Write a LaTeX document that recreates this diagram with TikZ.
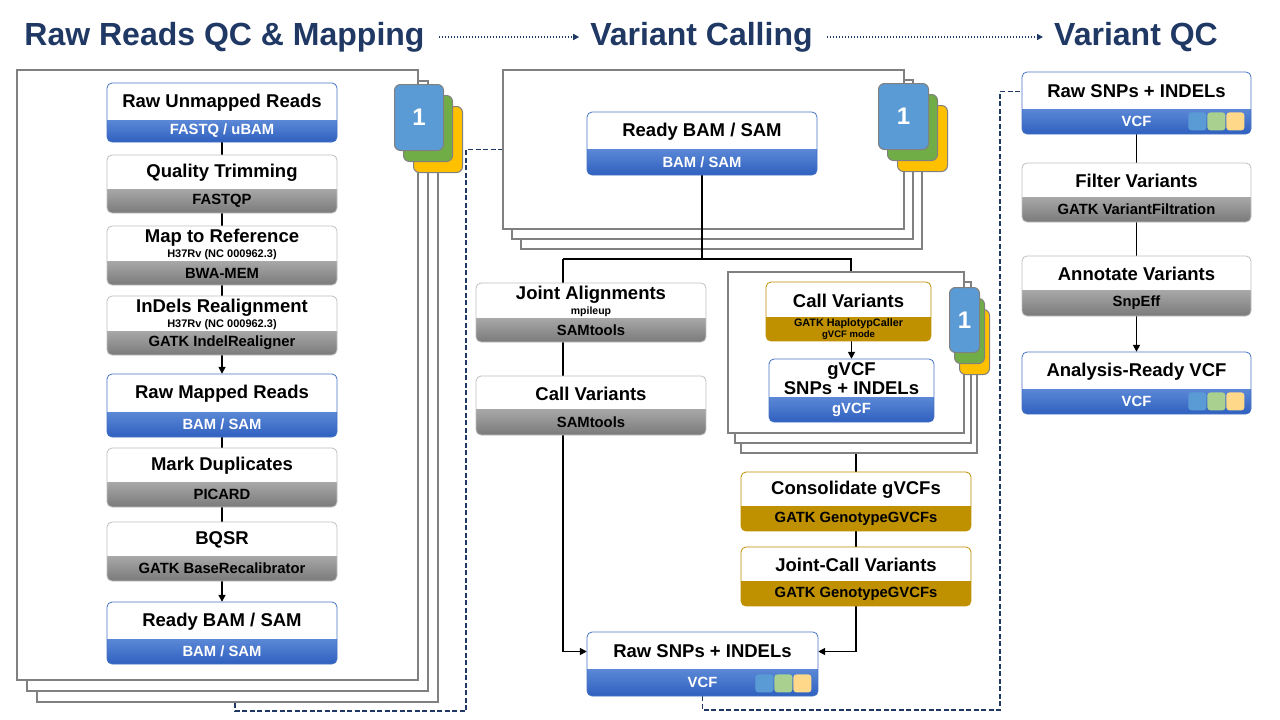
\documentclass[tikz,border=0pt]{standalone}
\usepackage{fontspec}
\setmainfont{Liberation Sans}
\usetikzlibrary{arrows.meta,calc,fit}
\definecolor{navy}{HTML}{203864}
\definecolor{frameGray}{HTML}{808080}
\definecolor{boxBlue}{HTML}{4472C4}
\definecolor{bBlueTop}{HTML}{5B88D6}
\definecolor{bBlueBot}{HTML}{2F60BF}
\definecolor{gTop}{HTML}{A8A8A8}
\definecolor{gBot}{HTML}{7A7A7A}
\definecolor{gEdge}{HTML}{BFBFBF}
\definecolor{gold}{HTML}{BF9000}
\definecolor{iBlue}{HTML}{5B9BD5}
\definecolor{iGreen}{HTML}{70AD47}
\definecolor{iYellow}{HTML}{FFC000}
\definecolor{sqB}{HTML}{5B9BD5}
\definecolor{sqG}{HTML}{A9D08E}
\definecolor{sqY}{HTML}{FFD88A}
\newcommand\fsz[2]{\fontsize{#1}{#2}\selectfont}
\pgfdeclarelayer{bgfill}
\pgfdeclarelayer{frames}
\pgfdeclarelayer{links}
\pgfsetlayers{bgfill,frames,links,main}
\tikzset{
  blueband/.style={top color=bBlueTop,bottom color=bBlueBot},
  blueedge/.style={draw=boxBlue,line width=0.8},
  bluetext/.style={text=white,font=\bfseries\fsz{14.8}{16},align=center,inner sep=0pt},
  greyband/.style={top color=gTop,bottom color=gBot},
  greyedge/.style={draw=gEdge,line width=0.8},
  greytext/.style={text=black,font=\bfseries\fsz{14.8}{16},align=center,inner sep=0pt},
  goldband/.style={fill=gold},
  goldedge/.style={draw=gold,line width=0.8},
  goldtext/.style={text=black,font=\bfseries\fsz{14.8}{16},align=center,inner sep=0pt},
  titletext/.style={font=\bfseries\fsz{18.5}{19},align=center,inner sep=0pt},
  framebox/.style={draw=frameGray,line width=2,fill=white,inner sep=0pt,anchor=north west},
  iconbox/.style={draw=frameGray,line width=1,rounded corners=6,inner sep=0pt,anchor=north west,
    text=white,font=\bfseries\fsz{24}{24}},
  sqbox/.style={minimum size=18,rounded corners=3,inner sep=0pt,anchor=north west},
  link/.style={line width=1.6,black},
  linkarrow/.style={line width=1.6,black,-{Triangle[length=7pt,width=7pt]}},
  dashline/.style={line width=1.8,navy,dash pattern=on 5pt off 2.5pt},
  bigtitle/.style={font=\bfseries\fsz{32}{36},text=navy,inner sep=4pt},
  titlearrow/.style={line width=1.5,navy,dash pattern=on 1.5pt off 1.5pt,
    -{Triangle[length=6pt,width=6pt]},shorten <=10pt,shorten >=7pt}
}
% #1 name #2 x1 #3 y1 #4 x2 #5 ydiv #6 y2 #7 kind #8 title #9 band
\newcommand\flowbox[9]{%
  \begin{scope}
    \clip[rounded corners=5] (#2,#3) rectangle (#4,#6);
    \fill[white] (#2,#3) rectangle (#4,#6);
    \path[#7band] (#2,#5) rectangle (#4,#6);
  \end{scope}
  \draw[#7edge,rounded corners=5] (#2,#3) rectangle (#4,#6);
  \node[fit={(#2,#3)(#4,#6)},inner sep=0pt] (#1) {};
  \node[titletext] (#1t) at ($(#2,#3)!0.5!(#4,#5)+(0,1)$) {#8};
  \node[#7text] (#1b) at ($(#2,#5)!0.5!(#4,#6)$) {#9};
}
\newcommand\vcfsq[1]{%
  \node[sqbox,fill=sqB] (#1s1) at ($(#1.south east)+(-63,-22)$) {};
  \node[sqbox,fill=sqG] (#1s2) at ($(#1.south east)+(-44,-22)$) {};
  \node[sqbox,fill=sqY] (#1s3) at ($(#1.south east)+(-25,-22)$) {};
}
\begin{document}
\begin{tikzpicture}[x=1pt,y=-1pt]
\useasboundingbox (0,0) rectangle (1280,720);
\begin{pgfonlayer}{bgfill}
\fill[white] (0,0) rectangle (1280,720);
\end{pgfonlayer}

% titles
\node[bigtitle] (t1) at (224.5,37) {Raw Reads QC \& Mapping};
\node[bigtitle] (t2) at (701.5,37) {Variant Calling};
\node[bigtitle] (t3) at (1136,37) {Variant QC};
\draw[titlearrow] (t1.east) -- (t2.west);
\draw[titlearrow] (t2.east) -- (t3.west);

\begin{pgfonlayer}{frames}
  % left frames
  \node[framebox,minimum width=401,minimum height=610] (lf3) at (36,91) {};
  \node[framebox,minimum width=401,minimum height=610] (lf2) at (26,80) {};
  \node[framebox,minimum width=401,minimum height=610] (lf1) at (16,69) {};
  \node[iconbox,fill=iYellow,minimum width=49,minimum height=66] (li3) at (413,106) {};
  \node[iconbox,fill=iGreen,minimum width=49,minimum height=66] (li2) at (403,95) {};
  \node[iconbox,fill=iBlue,minimum width=49,minimum height=66] (li1) at (394,84) {1};
  % middle frames
  \node[framebox,minimum width=401,minimum height=159] (mf3) at (520,89) {};
  \node[framebox,minimum width=401,minimum height=159] (mf2) at (511,79) {};
  \node[framebox,minimum width=401,minimum height=159] (mf1) at (502,69) {};
  \node[iconbox,fill=iYellow,minimum width=50,minimum height=66] (mi3) at (897,105) {};
  \node[iconbox,fill=iGreen,minimum width=50,minimum height=66] (mi2) at (887,94) {};
  \node[iconbox,fill=iBlue,minimum width=50,minimum height=66] (mi1) at (878,83) {1};
  % inner frames
  \node[framebox,minimum width=236,minimum height=161] (cf3) at (740,291) {};
  \node[framebox,minimum width=236,minimum height=161] (cf2) at (733.5,281) {};
  \node[framebox,minimum width=236,minimum height=161] (cf1) at (727,271) {};
  \node[iconbox,fill=iYellow,minimum width=30,minimum height=65] (ci3) at (959,309) {};
  \node[iconbox,fill=iGreen,minimum width=30,minimum height=65] (ci2) at (954,298) {};
  \node[iconbox,fill=iBlue,minimum width=30,minimum height=65] (ci1) at (949,287) {1};
\end{pgfonlayer}

% left column
\flowbox{rur}{107}{83}{337}{120}{142}{blue}{Raw Unmapped Reads}{FASTQ / uBAM}
\flowbox{qt}{107}{155}{337}{189}{213}{grey}{Quality Trimming}{FASTQP}
\flowbox{mtr}{107}{226}{337}{261}{285}{grey}{Map to Reference\\[-4pt]{\fsz{11}{12}H37Rv (NC 000962.3)}}{BWA-MEM}
\flowbox{idr}{107}{296}{337}{331}{355}{grey}{InDels Realignment\\[-4pt]{\fsz{11}{12}H37Rv (NC 000962.3)}}{GATK IndelRealigner}
\flowbox{rmr}{107}{374}{337}{412}{437}{blue}{Raw Mapped Reads}{BAM / SAM}
\flowbox{md}{107}{448}{337}{482}{507}{grey}{Mark Duplicates}{PICARD}
\flowbox{bq}{107}{522}{337}{556}{581}{grey}{BQSR}{GATK BaseRecalibrator}
\flowbox{rbl}{107}{602}{337}{639}{664}{blue}{Ready BAM / SAM}{BAM / SAM}

% middle column
\flowbox{rbm}{587}{112}{817}{149}{175}{blue}{Ready BAM / SAM}{BAM / SAM}
\flowbox{ja}{476}{283}{706}{318}{342}{grey}{Joint Alignments\\[-4pt]{\fsz{10.5}{11}mpileup}}{SAMtools}
\flowbox{cvs}{476}{376}{706}{409}{435}{grey}{Call Variants}{SAMtools}
\flowbox{cvg}{766}{282}{931}{317}{341}{gold}{Call Variants}{\fsz{10.8}{10}GATK HaplotypCaller\\[-5pt]\fsz{9.5}{10}gVCF mode}
\flowbox{gv}{769}{359}{934}{397}{422}{blue}{\fsz{18.5}{18}gVCF\\SNPs + INDELs}{gVCF}
\flowbox{cg}{741}{472}{971}{506}{531}{gold}{Consolidate gVCFs}{GATK GenotypeGVCFs}
\flowbox{jc}{741}{547}{971}{581}{606}{gold}{Joint-Call Variants}{GATK GenotypeGVCFs}
\flowbox{rsm}{587}{632}{818}{669}{696}{blue}{Raw SNPs + INDELs}{VCF}
\vcfsq{rsm}

% right column
\flowbox{qrs}{1022}{72}{1251}{109}{134}{blue}{Raw SNPs + INDELs}{VCF}
\vcfsq{qrs}
\flowbox{fv}{1022}{163}{1251}{197}{222}{grey}{Filter Variants}{GATK VariantFiltration}
\flowbox{av}{1022}{256}{1251}{290}{316}{grey}{Annotate Variants}{SnpEff}
\flowbox{ar}{1022}{352}{1251}{389}{414}{blue}{Analysis-Ready VCF}{VCF}
\vcfsq{ar}

\begin{pgfonlayer}{links}
  \draw[link] (rur.south) -- (qt.north);
  \draw[link] (qt.south) -- (mtr.north);
  \draw[link] (mtr.south) -- (idr.north);
  \draw[linkarrow] (idr.south) -- (rmr.north);
  \draw[link] (rmr.south) -- (md.north);
  \draw[link] (md.south) -- (bq.north);
  \draw[linkarrow] (bq.south) -- (rbl.north);
  \coordinate (jl) at (563,259);
  \coordinate (jr) at (851,259);
  \draw[link] (rbm.south) -- (rbm.south |- jl);
  \draw[link] (jl) -- (jr) -- (jr |- cf1.north);
  \draw[linkarrow] (jl) |- (rsm.west |- rsmt);
  \draw[linkarrow] (gv.north |- cvg.south) -- (gv.north);
  \draw[link] (cg.north |- cf3.south) -- (cg.north);
  \draw[link] (cg.south) -- (jc.north);
  \draw[linkarrow] (jc.south) |- (rsm.east |- rsmt);
  \draw[link] (qrs.south) -- (fv.north);
  \draw[link] (fv.south) -- (av.north);
  \draw[linkarrow] (av.south) -- (ar.north);
  \coordinate (dA) at (235,711);
  \coordinate (dB) at (466,711);
  \draw[dashline] (lf3.south -| dA) -- (dA) -- (dB) |- (mf1.west);
  \coordinate (dC) at (1000,710);
  \draw[dashline] (rsm.south) |- (dC) |- (qrs.west |- qrst);
\end{pgfonlayer}
\end{tikzpicture}
\end{document}
